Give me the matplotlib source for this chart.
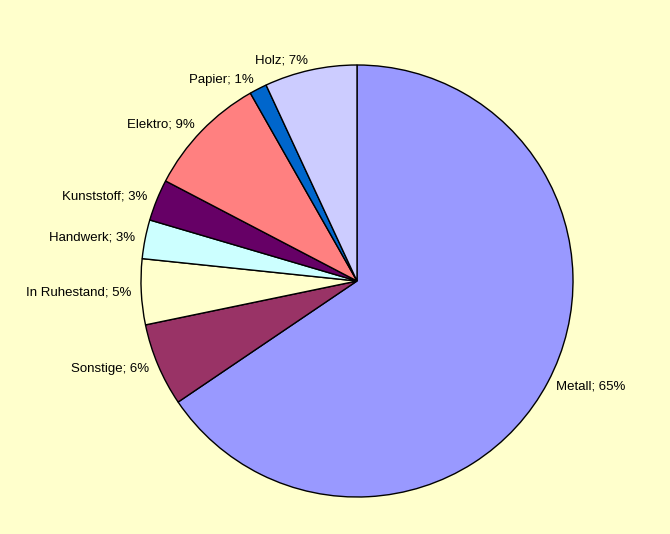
import matplotlib
matplotlib.use("Agg")
import matplotlib.pyplot as plt

# slice data, clockwise from 12 o'clock
categories = ["Metall", "Sonstige", "In Ruhestand", "Handwerk", "Kunststoff", "Elektro", "Papier", "Holz"]
shares = [65.4, 6.2, 4.9, 2.9, 3.1, 9.1, 1.3, 6.9]
shown_pct = [65, 6, 5, 3, 3, 9, 1, 7]
colors = ["#9999FF", "#993366", "#FFFFCC", "#CCFFFF", "#660066", "#FF8080", "#0066CC", "#CCCCFF"]

BG = "#FFFFCC"
plt.rcParams["font.family"] = ["Liberation Sans", "DejaVu Sans"]

fig = plt.figure(figsize=(6.7, 5.34), dpi=100, facecolor=BG)
# pie centre ~ (357, 281) px, radius ~216 px
ax = fig.add_axes([141 / 670, 37 / 534, 432 / 670, 432 / 534])
ax.set_facecolor(BG)

labels = [f"{c}; {p}%" for c, p in zip(categories, shown_pct)]
wedges, texts = ax.pie(shares, labels=labels, colors=colors, startangle=90,
                       counterclock=False, labeldistance=1.045,
                       wedgeprops=dict(edgecolor="black", linewidth=1.0),
                       textprops=dict(fontsize=9.5, color="black"))
ax.set_xlim(-1, 1)
ax.set_ylim(-1, 1)
ax.set_aspect("equal")
ax.axis("off")

fig.savefig("out.png", dpi=100, facecolor=BG)
